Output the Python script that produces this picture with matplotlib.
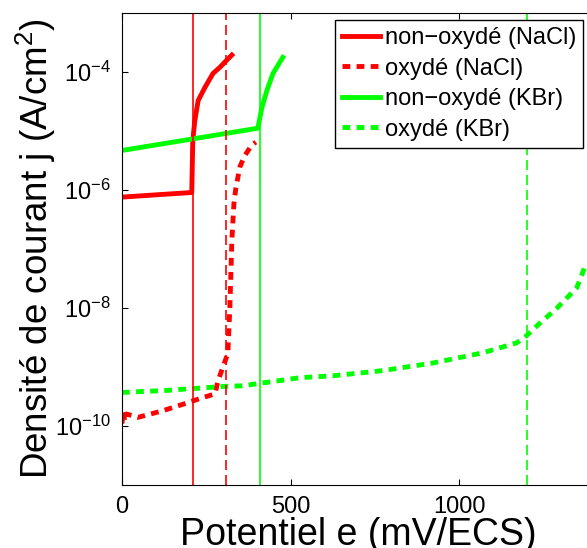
import matplotlib
matplotlib.use('Agg')
import matplotlib.pyplot as plt
import numpy as np

plt.rcParams['font.family'] = ['Liberation Sans', 'DejaVu Sans']
plt.rcParams['mathtext.fontset'] = 'custom'
plt.rcParams['mathtext.rm'] = 'Liberation Sans'
plt.rcParams['mathtext.it'] = 'Liberation Sans:italic'
plt.rcParams['mathtext.default'] = 'regular'

# courbes de polarisation (e en mV/ECS, j en A/cm2)
e_nacl_non = [0, 100, 207, 210, 216, 226, 246, 270, 290, 311, 326]
j_nacl_non = [7.6e-7, 8.3e-7, 9.1e-7, 6.9e-6, 1.5e-5, 3.3e-5, 5.5e-5, 9.5e-5, 1.2e-4, 1.6e-4, 1.95e-4]

e_nacl_ox = [0, 4, 8, 13, 47, 119, 187, 237, 276, 285, 299, 314, 320, 326, 332, 338, 350, 365, 385, 397]
j_nacl_ox = [1.1e-10, 1.8e-10, 1.2e-10, 1.6e-10, 1.4e-10, 1.8e-10, 2.4e-10, 3.0e-10, 3.5e-10, 5.9e-10,
             9.8e-10, 1.7e-9, 1.0e-8, 1.4e-7, 5.9e-7, 1.1e-6, 2.5e-6, 3.9e-6, 5.8e-6, 6.5e-6]

e_kbr_non = [0, 172, 403, 415, 430, 448, 477]
j_kbr_non = [4.7e-6, 6.8e-6, 1.12e-5, 2.5e-5, 4.9e-5, 9.5e-5, 1.78e-4]

e_kbr_ox = [0, 127, 207, 305, 356, 528, 625, 774, 922, 1070, 1171, 1200, 1239, 1289, 1349, 1378]
j_kbr_ox = [3.7e-10, 4.0e-10, 4.3e-10, 4.7e-10, 4.8e-10, 6.6e-10, 7.1e-10, 8.7e-10, 1.17e-9, 1.74e-9,
            2.57e-9, 3.4e-9, 5.5e-9, 9.8e-9, 2.2e-8, 5.9e-8]

# potentiels de piqure
e_pit = [210, 310, 410, 1200]
pit_colors = ['#ff0000', '#ff0000', '#00ff00', '#00ff00']
pit_styles = ['-', (0, (6, 3)), '-', (0, (6, 3))]

red = '#ff0000'
green = '#00ff00'
dotted = (0, (1.6, 1.3))

fig = plt.figure(figsize=(5.87, 5.48), dpi=100)
ax = fig.add_axes([0.2078, 0.115, 0.804, 0.861])

ax.plot(e_nacl_non, j_nacl_non, color=red, lw=3.5, label='non\u2212oxydé (NaCl)')
ax.plot(e_nacl_ox, j_nacl_ox, color=red, lw=3.5, ls=dotted, label='oxydé (NaCl)')
ax.plot(e_kbr_non, j_kbr_non, color=green, lw=3.5, label='non\u2212oxydé (KBr)')
ax.plot(e_kbr_ox, j_kbr_ox, color=green, lw=3.5, ls=dotted, label='oxydé (KBr)')

for e, c, s in zip(e_pit, pit_colors, pit_styles):
    ax.axvline(e, color=c, ls=s, lw=1.2)

ax.set_yscale('log')
ax.set_xlim(0, 1400)
ax.set_ylim(1e-11, 1e-3)
ax.set_xticks([0, 500, 1000])
ax.set_yticks([1e-10, 1e-8, 1e-6, 1e-4])
ax.set_yticklabels(['$10^{-10}$', '$10^{-8}$', '$10^{-6}$', '$10^{-4}$'])
ax.minorticks_off()
ax.tick_params(direction='in', length=4, width=0.8, labelsize=17, top=True, right=True, pad=8)

ax.set_xlabel('Potentiel e (mV/ECS)', fontsize=27, labelpad=-1)
ax.set_ylabel('Densité de courant j (A/cm$^2$)', fontsize=26.5, labelpad=-2)

leg = ax.legend(loc='upper left', bbox_to_anchor=(335 / 587, 1 - 20 / 548), bbox_transform=fig.transFigure,
                fontsize=17, frameon=True, fancybox=False, edgecolor='k', framealpha=1,
                handlelength=1.6, handletextpad=0.2, borderpad=0.3, labelspacing=0.36,
                borderaxespad=0)
leg.get_frame().set_linewidth(1.0)

plt.savefig('out.png', dpi=100)
